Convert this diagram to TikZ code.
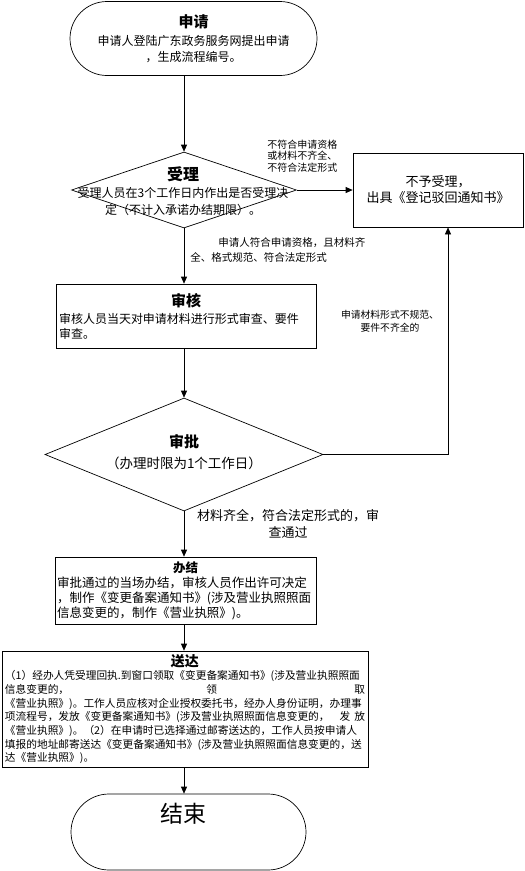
\documentclass[tikz,border=0pt]{standalone}
\usepackage{fontspec}
\setmainfont{Noto Sans CJK SC}
\usetikzlibrary{shapes.geometric,arrows.meta}
\newcommand{\ttlfont}[1]{\fontsize{#1}{#1}\selectfont\bfseries}
\tikzset{
  terminal/.style={draw, rectangle, rounded corners=#1, inner sep=0pt},
  procbox/.style={draw, rectangle, inner sep=3pt},
  decision/.style={draw, diamond, inner sep=0pt},
  note/.style={inner sep=0pt, font={\fontsize{10}{11.5}\selectfont}},
}

\begin{document}
\begin{tikzpicture}[x=1pt,y=-1pt,line width=0.7pt,>={Triangle[length=7pt,width=6pt]}]
			%%%%% START %%%%%
			\def\cx{184}
			\def\yacc{190}
			\def\yappr{454.5}
			
			\useasboundingbox (0,0) rectangle (525,871);
			
			\node[terminal=37pt, minimum width=247pt, minimum height=74pt, align=center, font={\fontsize{12}{16}\selectfont}] (apply) at (193.5,38.5)
				{{\ttlfont{15}申请}\\[2pt]申请人登陆广东政务服务网提出申请\\，生成流程编号。};
			
			\node[decision, minimum width=225pt, minimum height=76pt] (accept) at (\cx,\yacc) {};
			\node[align=center, inner sep=0pt, font={\fontsize{12}{17}\selectfont}] (accepttxt) at (183,191.5)
				{{\ttlfont{16}受理}\\受理人员在3个工作日内作出是否受理决\\定（不计入承诺办结期限）。};
			
			\node[procbox, minimum width=170pt, minimum height=74pt, align=center, font={\fontsize{13}{16}\selectfont}] (reject) at (438,190)
				{不予受理，\\出具《登记驳回通知书》};
			
			\node[procbox, minimum width=260pt, minimum height=64pt, text width=254pt, align=left, font={\fontsize{12}{15}\selectfont}] (check) at (186,316)
				{\makebox[\linewidth]{\ttlfont{15}审核}\\[2pt]审核人员当天对申请材料进行形式审查、要件\\审查。};
			
			\node[decision, minimum width=278pt, minimum height=113pt] (approve) at (\cx,\yappr) {};
			\node[align=center, inner sep=0pt, font={\fontsize{13.5}{21}\selectfont}] (approvetxt) at (184,452)
				{{\ttlfont{15}审批}\\（办理时限为1个工作日）};
			
			\node[procbox, minimum width=261pt, minimum height=67pt, text width=257pt, inner sep=2pt, align=left, font={\fontsize{12.5}{15}\selectfont}] (done) at (185.5,590.5)
				{\makebox[\linewidth]{\ttlfont{12.5}办结}\\审批通过的当场办结，审核人员作出许可决定\\，制作《变更备案通知书》(涉及营业执照照面\\信息变更的，制作《营业执照》)。};
			
			\node[procbox, minimum width=366pt, minimum height=116pt, text width=360pt, align=left, font={\fontsize{10.7}{13.7}\selectfont}] (deliver) at (185,709)
				{\makebox[\linewidth]{\ttlfont{14}送达}\\
				（1）经办人凭受理回执.到窗口领取《变更备案通知书》(涉及营业执照照面\\
				信息变更的，\hfill 领\hfill 取\\
				《营业执照》)。工作人员应核对企业授权委托书，经办人身份证明，办理事\\
				项流程号，发放《变更备案通知书》(涉及营业执照照面信息变更的，\hfill 发\hspace{4pt}放\\
				《营业执照》)。（2）在申请时已选择通过邮寄送达的，工作人员按申请人\\
				填报的地址邮寄送达《变更备案通知书》(涉及营业执照照面信息变更的，送\\
				达《营业执照》)。};
			
			\node[terminal=38pt, minimum width=235pt, minimum height=76pt] (finish) at (188.5,832) {};
			\node[inner sep=0pt, font={\fontsize{23}{26}\selectfont}] (finishtxt) at (183,814) {结束};
			
			% branch labels
			\node[note, anchor=west, align=left] (nofit) at (267,156) {不符合申请资格\\或材料不齐全、\\不符合法定形式};
			\node[note, anchor=west, align=left, font={\fontsize{10.5}{15}\selectfont}] (fit) at (190,250.5) {\hspace*{28pt}申请人符合申请资格，且材料齐\\全、格式规范、符合法定形式};
			\node[note, align=center, font={\fontsize{9.8}{13}\selectfont}] (irregular) at (390,321.5) {申请材料形式不规范、\\要件不齐全的};
			\node[note, align=center, font={\fontsize{13}{17}\selectfont}] (pass) at (288,523.5) {材料齐全，符合法定形式的，审\\查通过};
			
			% connectors
			\draw[->] (apply.south -| accept.north) -- (accept.north);
			\draw[->] (accept.east) -- (reject.west);
			\draw[->] (accept.south) -- (accept.south |- check.north);
			\draw[->] (check.south -| approve.north) -- (approve.north);
			\draw[->] (approve.east) -| ([xshift=10pt]reject.south);
			\draw[->] (approve.south) -- (approve.south |- done.north);
			\draw[->] (approve.south |- done.south) -- (approve.south |- deliver.north);
			\draw[->] (approve.south |- deliver.south) -- (approve.south |- finish.north);
			%%%%% END %%%%%
\end{tikzpicture}
\end{document}
